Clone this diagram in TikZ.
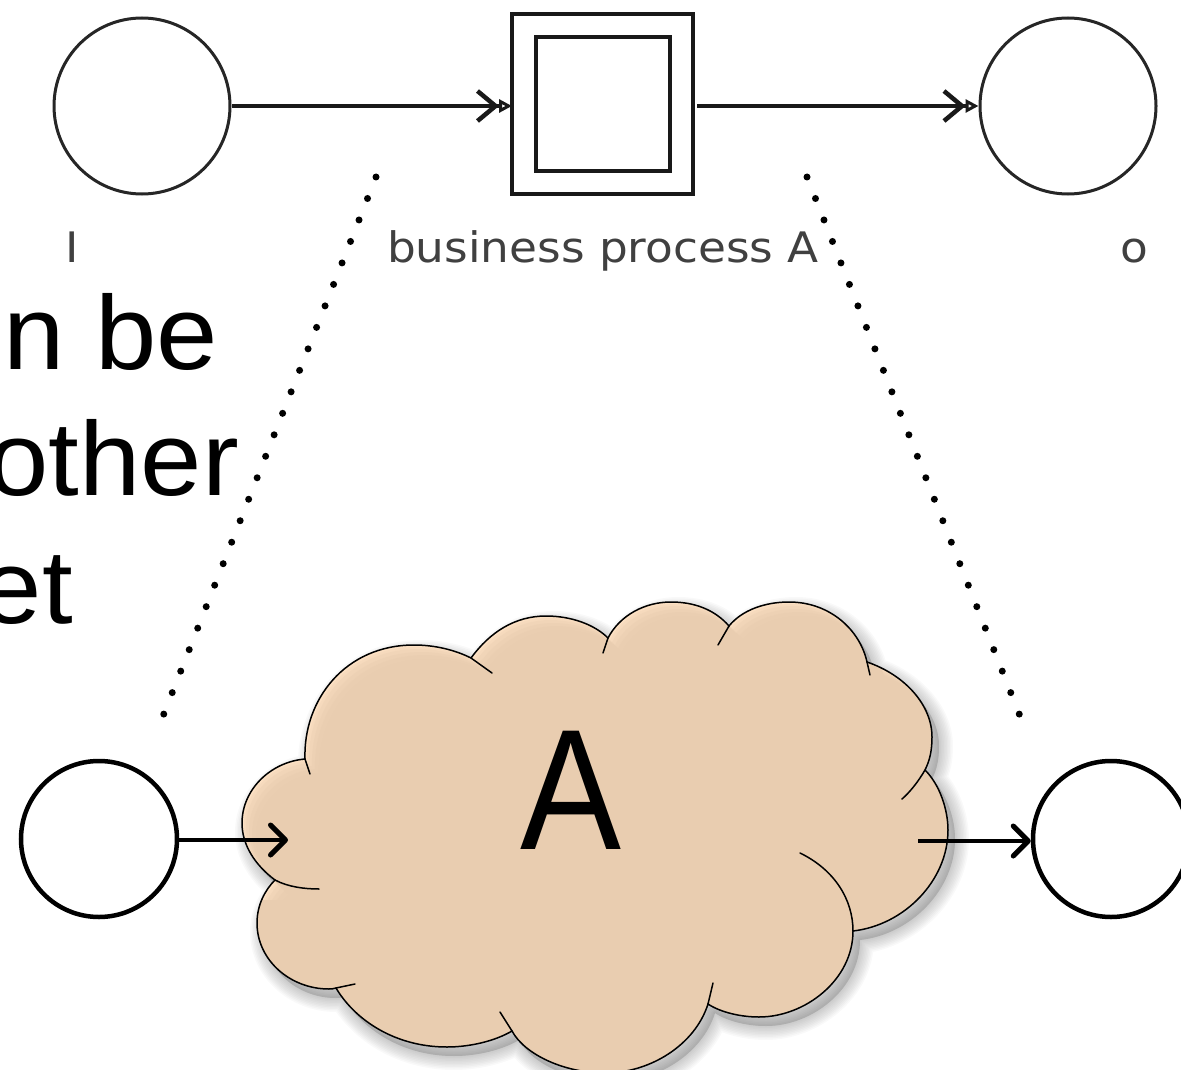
\documentclass[tikz,border=0pt]{standalone}
\usepackage{fontspec}
\setmainfont{Liberation Sans}
\newfontfamily\labelfont{DejaVu Sans}
\usetikzlibrary{arrows.meta}
\newcommand{\cloudshape}{(305,759)
 .. controls (303,700) and (345,645) .. (414,645)
 .. controls (435,645) and (455,650) .. (471,658)
 .. controls (490,632) and (515,616) .. (546,616)
 .. controls (572,616) and (595,625) .. (608,638)
 .. controls (620,615) and (645,602) .. (671,602)
 .. controls (695,602) and (715,610) .. (729,626)
 .. controls (742,610) and (765,602) .. (789,602)
 .. controls (830,602) and (860,630) .. (867,662)
 .. controls (905,675) and (932,705) .. (932,737)
 .. controls (932,750) and (930,760) .. (925,770)
 .. controls (940,785) and (948,810) .. (948,830)
 .. controls (948,880) and (905,925) .. (853,931)
 .. controls (853,980) and (805,1017) .. (759,1017)
 .. controls (740,1017) and (720,1012) .. (708,1004)
 .. controls (695,1045) and (650,1073) .. (605,1073)
 .. controls (565,1073) and (525,1055) .. (512,1031)
 .. controls (495,1041) and (470,1047) .. (447,1047)
 .. controls (395,1047) and (355,1020) .. (336,988)
 .. controls (333,989) and (331,989) .. (329,989)
 .. controls (290,989) and (257,960) .. (257,923)
 .. controls (257,905) and (265,890) .. (275,880)
 .. controls (255,865) and (242,845) .. (242,823)
 .. controls (242,790) and (270,762) .. (305,759) -- cycle}
\definecolor{cloudfill}{HTML}{E9CDB0}
\definecolor{cloudlight}{HTML}{FCE0C3}
\tikzset{
  toplace/.style={circle,draw=black!85,line width=3pt,minimum size=176pt,inner sep=0pt},
  botplace/.style={circle,draw=black,fill=white,line width=4.5pt,minimum size=156pt,inner sep=0pt},
  squarebox/.style={rectangle,draw=black!90,line width=3.5pt,inner sep=0pt},
  smalllabel/.style={font=\labelfont\fontsize{42}{42}\selectfont,text=black!75,inner sep=0pt},
  bigtext/.style={font=\fontsize{105}{105}\selectfont,text=black,inner sep=0pt,anchor=base east,xscale=1.05},
  topflow/.style={line width=3.2pt,draw=black!90,-{Straight Barb[length=18pt,width=30pt,line width=4.5pt]Triangle[open,length=13pt,width=13pt,line width=3pt]}},
  botflow/.style={line width=4.5pt,draw=black,-{Straight Barb[length=15pt,width=30pt,line width=5pt,round]}},
  dotline/.style={line width=7pt,line cap=round,dash pattern=on 0pt off 23.1pt},
  cloudline/.style={line width=1.5pt,draw=black,line cap=round},
}
\begin{document}
\begin{tikzpicture}[x=1pt,y=-1pt]
\useasboundingbox (0,0) rectangle (1181,1070);
\clip (0,0) rectangle (1181,1070);
% large clipped text
\node[bigtext] (t1) at (218,369) {n be};
\node[bigtext] (t2) at (239,495) {other};
\node[bigtext] (t3) at (73,623) {et};
% cloud shadow, blurred
\begin{scope}[shift={(7,9)}]
  \foreach \w in {28,25,22,19,16,13,10,7,4,1}{
    \draw[black,opacity=0.022,line width=\w pt,line join=round] \cloudshape;
  }
  \fill[black,opacity=0.15] \cloudshape;
\end{scope}
% cloud body with soft inner highlight
\begin{scope}
  \clip \cloudshape;
  \fill[cloudlight] (200,560) rectangle (1000,1080);
  \foreach \s/\o in {2/0.3,4/0.35,7/0.4,10/0.5,14/0.7,18/1}{
    \begin{scope}[shift={(\s,\s)}]
      \fill[cloudfill,opacity=\o] \cloudshape;
    \end{scope}
  }
  \fill[cloudfill] (400,800) rectangle (800,1080);
  \fill[cloudfill] (240,900) rectangle (1000,1080);
\end{scope}
\draw[cloudline] \cloudshape;
% inner tails of the cloud's lobes
\draw[cloudline] (471,658) -- (492,673);
\draw[cloudline] (608,638) -- (603,653);
\draw[cloudline] (729,626) -- (718,645);
\draw[cloudline] (867,662) -- (870,675);
\draw[cloudline] (925,770) .. controls (918,782) and (910,792) .. (902,799);
\draw[cloudline] (853,931) .. controls (853,900) and (835,870) .. (800,853);
\draw[cloudline] (708,1004) -- (713,983);
\draw[cloudline] (512,1031) -- (500,1012);
\draw[cloudline] (336,988) -- (355,984);
\draw[cloudline] (275,880) .. controls (288,887) and (305,889) .. (319,889);
\draw[cloudline] (305,759) -- (310,774);
\node[font=\fontsize{172}{172}\selectfont,xscale=0.88,inner sep=0pt,anchor=base] (cloudA) at (571,849) {A};
% top net
\node[toplace] (pi) at (142,106) {};
\node[toplace] (po) at (1068,106) {};
\node[squarebox,minimum width=181pt,minimum height=180pt] (outer) at (602.5,104) {};
\node[squarebox,minimum width=134pt,minimum height=134pt] (inner) at (603,104) {};
\coordinate (oin) at (512,106);
\coordinate (oout) at (697,106);
\draw[topflow] (pi.east) -- (oin);
\draw[topflow] (oout) -- (po.west);
\node[smalllabel,anchor=base,xscale=1.08] (li) at (72,262) {I};
\node[smalllabel,anchor=base,xscale=1.08] (lb) at (603,262) {business process A};
\node[smalllabel,anchor=base,xscale=1.08] (lo) at (1134,262) {o};
% dotted zoom lines
\coordinate (d1a) at (376,177);
\coordinate (d1b) at (163,716);
\coordinate (d2a) at (807,177);
\coordinate (d2b) at (1020,716);
\draw[dotline] (d1a) -- (d1b);
\draw[dotline] (d2a) -- (d2b);
% bottom places and arrows
\node[botplace] (bi) at (99,839) {};
\node[botplace] (bo) at (1111,839) {};
\coordinate (ain) at (288,840);
\coordinate (aout) at (918,841);
\draw[botflow] (bi.east |- ain) -- (ain);
\draw[botflow] (aout) -- (bo.west |- aout);
\end{tikzpicture}
\end{document}
